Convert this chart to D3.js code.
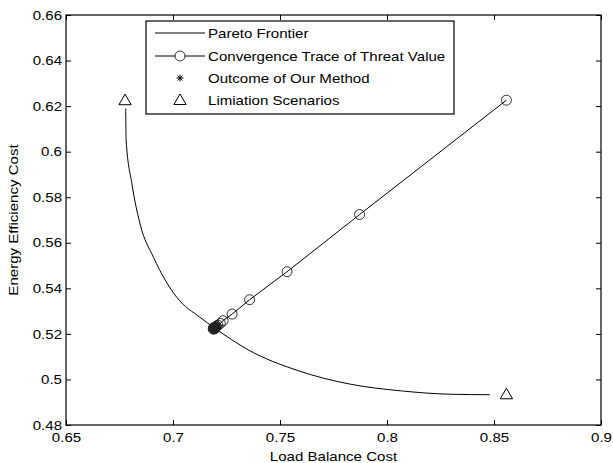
<!DOCTYPE html>
<html>
<head>
<meta charset="utf-8">
<script src="https://cdn.jsdelivr.net/npm/d3@7"></script>
<style>
  body { margin: 0; background: #fff; }
  text { font-family: Arial, "Liberation Sans", sans-serif; fill: #000; }
</style>
</head>
<body>
<div class="chart"></div>
<script>
var svgWidth = 613;
var svgHeight = 463;

var margin = { top: 15, right: 12, bottom: 38, left: 66 };
var width = svgWidth - margin.left - margin.right;
var height = svgHeight - margin.top - margin.bottom;

// data
var xTicks = [0.65, 0.7, 0.75, 0.8, 0.85, 0.9];
var yTicks = [0.48, 0.5, 0.52, 0.54, 0.56, 0.58, 0.6, 0.62, 0.64, 0.66];

var frontierX = [0.6779, 0.6781, 0.6808, 0.6846, 0.6909, 0.7018, 0.7127, 0.7193, 0.7353, 0.7580, 0.7830, 0.8064, 0.8298, 0.8480];
var frontierY = [0.6189, 0.6050, 0.5859, 0.5683, 0.5536, 0.5360, 0.5272, 0.5227, 0.5129, 0.5040, 0.4979, 0.4950, 0.4935, 0.4933];

var traceX = [0.8558, 0.7872, 0.7533, 0.7358, 0.7276, 0.7234, 0.7221, 0.7210, 0.7203, 0.7199, 0.7196];
var traceY = [0.6226, 0.5724, 0.5473, 0.5350, 0.5287, 0.5258, 0.5246, 0.5238, 0.5233, 0.5230, 0.5228];

var outcomeX = [0.7188, 0.7191, 0.7194, 0.7197, 0.7193, 0.7190, 0.7196];
var outcomeY = [0.5221, 0.5224, 0.5226, 0.5228, 0.5222, 0.5227, 0.5223];

var limitX = [0.6776, 0.8558];
var limitY = [0.6226, 0.4935];

var legendLabels = ["Pareto Frontier", "Convergence Trace of Threat Value", "Outcome of Our Method", "Limiation Scenarios"];

var fontSize = 13;
var stretch = 1.16; // text in the original is a bit wide

var svg = d3.select(".chart")
  .append("svg")
  .attr("width", svgWidth)
  .attr("height", svgHeight);

var chartGroup = svg.append("g")
  .attr("transform", `translate(${margin.left}, ${margin.top})`);

var xScale = d3.scaleLinear().domain([0.65, 0.9]).range([0, width]);
var yScale = d3.scaleLinear().domain([0.48, 0.66]).range([height, 0]);

var fmt = d => String(+d.toFixed(2));

// wide text helper
function wideText(parent, x, y, str, anchor, rot) {
  var g = parent.append("g")
    .attr("transform", `translate(${x}, ${y})` + (rot ? ` rotate(${rot})` : "") + ` scale(${stretch}, 1)`);
  return g.append("text")
    .attr("text-anchor", anchor || "start")
    .attr("font-size", fontSize)
    .text(str);
}

// axes, ticks pointing inward
function styleAxis(g) {
  g.select(".domain").remove();
  g.selectAll(".tick line").attr("stroke", "#000");
  g.selectAll(".tick text").attr("font-size", fontSize).attr("fill", "#000");
}

chartGroup.append("g")
  .attr("transform", `translate(0, ${height})`)
  .call(d3.axisBottom(xScale).tickValues(xTicks).tickFormat(fmt).tickSizeInner(-5).tickPadding(8))
  .call(styleAxis)
  .selectAll(".tick text")
  .attr("transform", `scale(${stretch}, 1)`);

chartGroup.append("g")
  .call(d3.axisLeft(yScale).tickValues(yTicks).tickFormat(fmt).tickSizeInner(-5).tickPadding(4))
  .call(styleAxis)
  .selectAll(".tick text")
  .attr("x", -4 / stretch)
  .attr("transform", `scale(${stretch}, 1)`);

chartGroup.append("g")
  .call(d3.axisTop(xScale).tickValues(xTicks).tickFormat("").tickSizeInner(-5))
  .call(styleAxis);

chartGroup.append("g")
  .attr("transform", `translate(${width}, 0)`)
  .call(d3.axisRight(yScale).tickValues(yTicks).tickFormat("").tickSizeInner(-5))
  .call(styleAxis);

chartGroup.append("rect")
  .attr("width", width)
  .attr("height", height)
  .attr("fill", "none")
  .attr("stroke", "#000")
  .attr("stroke-width", 1.2);

// pareto frontier
var frontier = frontierX.map((x, i) => [x, frontierY[i]]);
chartGroup.append("path")
  .datum(frontier)
  .attr("fill", "none")
  .attr("stroke", "#000")
  .attr("stroke-width", 1)
  .attr("d", d3.line().x(d => xScale(d[0])).y(d => yScale(d[1])).curve(d3.curveMonotoneX));

// convergence trace
var trace = traceX.map((x, i) => [x, traceY[i]]);
chartGroup.append("path")
  .datum(trace)
  .attr("fill", "none")
  .attr("stroke", "#000")
  .attr("stroke-width", 1)
  .attr("d", d3.line().x(d => xScale(d[0])).y(d => yScale(d[1])));

chartGroup.selectAll(".trace-pt")
  .data(trace)
  .enter()
  .append("circle")
  .attr("class", "trace-pt")
  .attr("cx", d => xScale(d[0]))
  .attr("cy", d => yScale(d[1]))
  .attr("r", 5)
  .attr("fill", "none")
  .attr("stroke", "#000")
  .attr("stroke-width", 0.8);

// star marker (matlab '*')
function drawStar(g, cx, cy, r) {
  var p = "";
  for (var k = 0; k < 4; k++) {
    var a = k * Math.PI / 4;
    p += `M${cx - r * Math.cos(a)},${cy - r * Math.sin(a)}L${cx + r * Math.cos(a)},${cy + r * Math.sin(a)}`;
  }
  g.append("path").attr("d", p).attr("stroke", "#000").attr("stroke-width", 1).attr("fill", "none");
}

var outcome = outcomeX.map((x, i) => [x, outcomeY[i]]);
outcome.forEach(function(d) {
  chartGroup.append("circle")
    .attr("cx", xScale(d[0]))
    .attr("cy", yScale(d[1]))
    .attr("r", 5)
    .attr("fill", "none")
    .attr("stroke", "#222")
    .attr("stroke-width", 1);
  drawStar(chartGroup, xScale(d[0]), yScale(d[1]), 4);
});
chartGroup.append("circle")
  .attr("cx", xScale(d3.mean(outcomeX)))
  .attr("cy", yScale(d3.mean(outcomeY)))
  .attr("r", 4.5)
  .attr("fill", "#222");

// limitation scenarios
var tri = d3.symbol().type(d3.symbolTriangle).size(65);
chartGroup.selectAll(".limit")
  .data(limitX.map((x, i) => [x, limitY[i]]))
  .enter()
  .append("path")
  .attr("class", "limit")
  .attr("transform", d => `translate(${xScale(d[0])}, ${yScale(d[1]) + 1})`)
  .attr("d", tri)
  .attr("fill", "none")
  .attr("stroke", "#000")
  .attr("stroke-width", 1);

// axis titles
wideText(svg, margin.left + width / 2, 461, "Load Balance Cost", "middle");
wideText(svg, 18, margin.top + height / 2, "Energy Efficiency Cost", "middle", -90);

// legend
var legend = svg.append("g").attr("transform", "translate(146, 21)");
legend.append("rect")
  .attr("width", 308)
  .attr("height", 93)
  .attr("fill", "#fff")
  .attr("stroke", "#000")
  .attr("stroke-width", 1.2);

var rowY = [12, 35, 57, 79];
legendLabels.forEach(function(label, i) {
  var y = rowY[i];
  if (i < 2) {
    legend.append("line")
      .attr("x1", 9).attr("x2", 59)
      .attr("y1", y).attr("y2", y)
      .attr("stroke", "#000");
  }
  if (i === 1) {
    legend.append("circle").attr("cx", 34).attr("cy", y).attr("r", 5)
      .attr("fill", "#fff").attr("stroke", "#000").attr("stroke-width", 0.8);
  }
  if (i === 2) drawStar(legend, 34, y, 3.5);
  if (i === 3) {
    legend.append("path").attr("transform", `translate(34, ${y + 1})`).attr("d", tri)
      .attr("fill", "none").attr("stroke", "#000");
  }
  wideText(legend, 62, y + 5, label, "start");
});
</script>
</body>
</html>
